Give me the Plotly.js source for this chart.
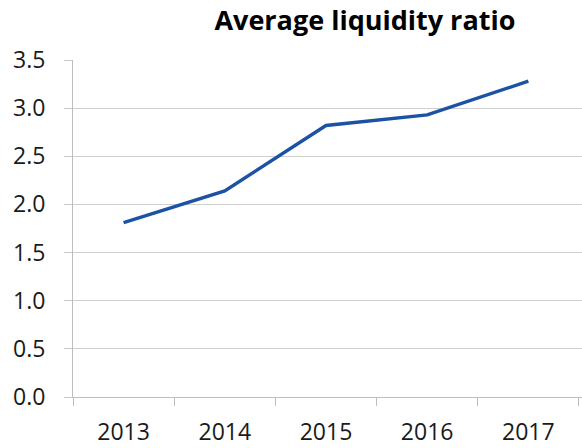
<!DOCTYPE html>
<html><head><meta charset="utf-8">
<script src="https://cdn.plot.ly/plotly-3.0.1.min.js"></script>
<style>html,body{margin:0;padding:0;background:#fff}#chart{width:582px;height:448px}</style>
</head><body><div id="chart"></div>
<script>
var years = ['2013', '2014', '2015', '2016', '2017'];
var liquidityRatio = [1.81, 2.14, 2.82, 2.93, 3.28];
var yTicks = [0, 0.5, 1, 1.5, 2, 2.5, 3, 3.5];
var yTickText = ['0.0', '0.5', '1.0', '1.5', '2.0', '2.5', '3.0', '3.5'];

var trace = {
  x: years, y: liquidityRatio, type: 'scatter', mode: 'lines',
  line: {color: '#1c52a3', width: 3.4},
  hoverinfo: 'skip'
};
var layout = {
  width: 582, height: 448,
  margin: {l: 73, r: 0, t: 60, b: 51},
  paper_bgcolor: '#fff', plot_bgcolor: '#fff',
  showlegend: false,
  font: {family: 'Open Sans, sans-serif', color: '#1a1a1a'},
  title: {text: '<b>Average liquidity ratio</b>', x: 0.627, xanchor: 'center', y: 0.955, yanchor: 'middle',
          font: {size: 27, family: 'Open Sans, sans-serif', color: '#000'}},
  xaxis: {
    type: 'category', range: [-0.5, 4.53],
    tickson: 'boundaries', ticks: 'outside', ticklen: 8, tickcolor: '#bdbdbd', tickwidth: 1,
    showline: true, linecolor: '#bdbdbd', linewidth: 1,
    showgrid: false, zeroline: false,
    tickfont: {size: 23, color: '#1a1a1a'}, ticklabelstandoff: 14
  },
  yaxis: {
    range: [0, 3.5], tickvals: yTicks, ticktext: yTickText,
    ticks: 'outside', ticklen: 8, tickcolor: '#c8c8c8', tickwidth: 1,
    showline: true, linecolor: '#bdbdbd', linewidth: 1,
    showgrid: true, gridcolor: '#cfcfcf', gridwidth: 1, zeroline: false,
    tickfont: {size: 23, color: '#1a1a1a'}, ticklabelstandoff: 14
  }
};
Plotly.newPlot('chart', [trace], layout, {staticPlot: true, displayModeBar: false});
</script></body></html>
